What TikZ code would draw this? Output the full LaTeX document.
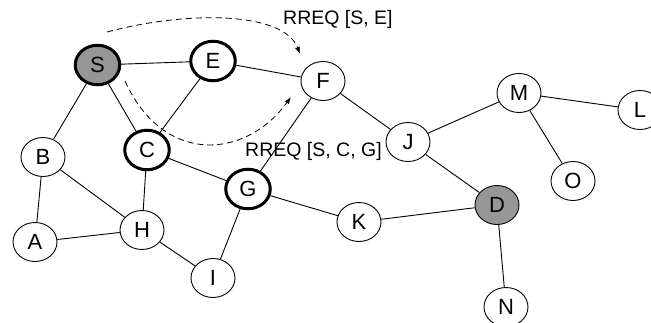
\documentclass[tikz,border=0pt]{standalone}
\usepackage{fontspec}
\setmainfont{Liberation Sans}
\usetikzlibrary{arrows.meta,shapes.geometric}
\definecolor{nodegray}{RGB}{150,150,150}
\tikzset{
  vert/.style={ellipse, draw=black, line width=0.9pt, fill=white, minimum width=44pt, minimum height=39pt, inner sep=0pt, font=\fontsize{22}{22}\selectfont},
  thickvert/.style={vert, line width=3pt, minimum width=44.5pt, minimum height=39.5pt},
  srcvert/.style={thickvert, fill=nodegray},
  dstvert/.style={vert, fill=nodegray},
  edge/.style={draw=black, line width=0.9pt},
  rreq/.style={draw=black, line width=0.8pt, dash pattern=on 6pt off 4pt, -{Latex[length=7pt,width=5pt]}},
  lbl/.style={anchor=west, inner sep=0pt, font=\fontsize{19.5}{19.5}\selectfont}
}
\begin{document}
\begin{tikzpicture}[x=1pt,y=-1pt]
\useasboundingbox (0,0) rectangle (651,322);
\clip (0,0) rectangle (651,322);
\fill[white] (0,0) rectangle (651,322);
% nodes
\node[srcvert] (S) at (97.5,65) {S};
\node[thickvert] (E) at (213,61) {E};
\node[vert] (F) at (323,81) {F};
\node[thickvert] (C) at (147,150) {C};
\node[vert] (B) at (43,157) {B};
\node[thickvert] (G) at (248,189) {G};
\node[vert] (H) at (142,230) {H};
\node[vert] (A) at (35,242) {A};
\node[vert] (I) at (213,278) {I};
\node[vert] (J) at (408,142) {J};
\node[vert] (M) at (519,93) {M};
\node[vert] (L) at (640,110) {L};
\node[vert] (O) at (573,181) {O};
\node[dstvert] (D) at (497,205) {D};
\node[vert] (K) at (359,222) {K};
\node[vert] (N) at (506,307) {N};
% edges
\path[edge] (S) -- (E);
\path[edge] (S) -- (B);
\path[edge] (S) -- (C);
\path[edge] (E) -- (C);
\path[edge] (E) -- (F);
\path[edge] (F) -- (J);
\path[edge] (F) -- (G);
\path[edge] (C) -- (G);
\path[edge] (C) -- (H);
\path[edge] (B) -- (H);
\path[edge] (B) -- (A);
\path[edge] (A) -- (H);
\path[edge] (H) -- (I);
\path[edge] (I) -- (G);
\path[edge] (G) -- (K);
\path[edge] (K) -- (D);
\path[edge] (J) -- (D);
\path[edge] (J) -- (M);
\path[edge] (M) -- (L);
\path[edge] (M) -- (O);
\path[edge] (D) -- (N);
% labels
\node[lbl] (l1) at (283,19.5) {RREQ [S, E]};
\node[lbl] (l2) at (245,151.5) {RREQ [S, C, G]};
% dashed RREQ arrows
\coordinate (a1s) at (107,32);
\coordinate (a1e) at (300,54);
\coordinate (a2s) at (125,81);
\coordinate (a2e) at (291,97);
\draw[rreq] (a1s) .. controls (190,10) and (284,12) .. (a1e);
\draw[rreq] (a2s) .. controls (163,165) and (245,160) .. (a2e);
\end{tikzpicture}
\end{document}
